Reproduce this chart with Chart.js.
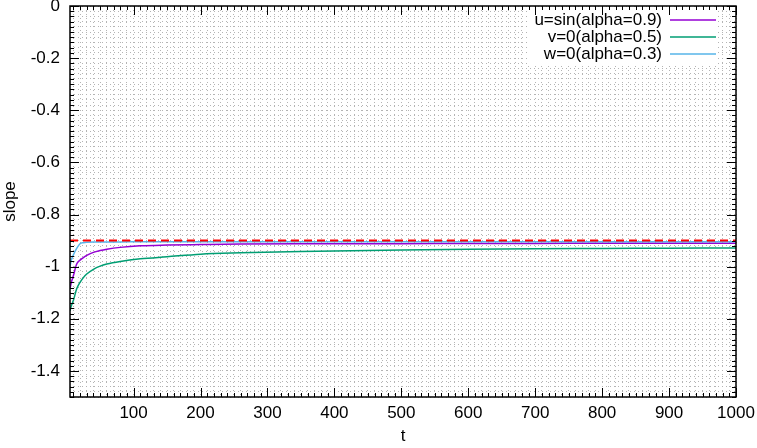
<!DOCTYPE html>
<html>
<head>
<meta charset="utf-8">
<script src="https://cdn.jsdelivr.net/npm/chart.js@4"></script>
<style>
  html, body { margin: 0; padding: 0; background: #fff; }
  #wrap { width: 757px; height: 448px; }
</style>
</head>
<body>
<div id="wrap"><canvas id="slopeChart" width="757" height="448"></canvas></div>
<script>
// t 값
var tValues = [5, 7, 10, 15, 20, 25, 30, 40, 50, 60, 80, 110, 150, 200, 260, 350, 500, 600, 700, 800, 900, 1000];
// 각 곡선의 slope
var uSlope = [-1.085, -1.06, -1.035, -0.99, -0.975, -0.965, -0.957, -0.945, -0.938, -0.933, -0.926, -0.92, -0.917, -0.915, -0.913, -0.912, -0.912, -0.911, -0.911, -0.91, -0.91, -0.91];
var vSlope = [-1.17, -1.15, -1.13, -1.085, -1.06, -1.042, -1.028, -1.01, -0.998, -0.99, -0.98, -0.97, -0.962, -0.952, -0.947, -0.942, -0.936, -0.933, -0.931, -0.93, -0.929, -0.928];
var wSlope = [-1.0, -0.975, -0.955, -0.93, -0.912, -0.908, -0.906, -0.905, -0.905, -0.905, -0.905, -0.904, -0.904, -0.904, -0.904, -0.904, -0.904, -0.904, -0.904, -0.904, -0.904, -0.904];
var refSlope = [-0.9, -0.9];
var refT = [5, 1000];

var seriesLabels = ['u=sin(alpha=0.9)', 'v=0(alpha=0.5)', 'w=0(alpha=0.3)'];
var seriesColors = ['#9400d3', '#009e73', '#56b4e9'];

function toPoints(xs, ys) {
    return xs.map(function (x, i) { return { x: x, y: ys[i] }; });
}

Chart.defaults.font.family = "'Liberation Sans', Arial, Helvetica, sans-serif";
Chart.defaults.font.size = 17;
Chart.defaults.color = '#000';

// 테두리 + 안쪽으로 향하는 눈금 (gnuplot 스타일)
var frameTicks = {
    id: 'frameTicks',
    afterDraw: function (chart) {
        var ctx = chart.ctx, a = chart.chartArea;
        var xs = chart.scales.x, ys = chart.scales.y;
        ctx.save();
        ctx.setLineDash([]);
        ctx.strokeStyle = '#000';
        ctx.lineWidth = 1;
        ctx.beginPath();
        xs.ticks.forEach(function (t) {
            var px = Math.round(xs.getPixelForValue(t.value)) + 0.5;
            var len = t.value % 100 === 0 ? 9 : 4;
            ctx.moveTo(px, a.bottom); ctx.lineTo(px, a.bottom - len);
            ctx.moveTo(px, a.top); ctx.lineTo(px, a.top + len);
        });
        ys.ticks.forEach(function (t) {
            var py = Math.round(ys.getPixelForValue(t.value)) + 0.5;
            var len = Math.round(t.value * 50) % 10 === 0 ? 9 : 4;
            ctx.moveTo(a.left, py); ctx.lineTo(a.left + len, py);
            ctx.moveTo(a.right, py); ctx.lineTo(a.right - len, py);
        });
        ctx.stroke();
        ctx.lineWidth = 1.5;
        ctx.strokeRect(a.left, a.top, a.right - a.left, a.bottom - a.top);
        ctx.restore();
    }
};

// 범례: 글자 오른쪽 정렬 + 오른쪽에 선 샘플
var keyBox = {
    id: 'keyBox',
    afterDatasetsDraw: function (chart) {
        var ctx = chart.ctx, a = chart.chartArea;
        var textRight = a.right - 74, lineL = a.right - 66, lineR = a.right - 20;
        ctx.save();
        ctx.setLineDash([]);
        ctx.fillStyle = '#fff';
        ctx.fillRect(a.right - 208, a.top + 2, 190, 58);
        ctx.font = "17px 'Liberation Sans', Arial, sans-serif";
        ctx.textAlign = 'right';
        ctx.textBaseline = 'middle';
        for (var i = 0; i < 3; i++) {
            var ds = chart.data.datasets[i];
            var y = a.top + 14 + i * 17;
            ctx.fillStyle = '#000';
            ctx.fillText(ds.label, textRight, y);
            ctx.strokeStyle = seriesColors[i];
            ctx.lineWidth = 1.5;
            ctx.beginPath();
            ctx.moveTo(lineL, y);
            ctx.lineTo(lineR, y);
            ctx.stroke();
        }
        ctx.restore();
    }
};

var config = {
    type: 'line',
    data: {
        datasets: [
            { label: seriesLabels[0], data: toPoints(tValues, uSlope), borderColor: seriesColors[0], borderWidth: 1.5, order: 3 },
            { label: seriesLabels[1], data: toPoints(tValues, vSlope), borderColor: seriesColors[1], borderWidth: 1.5, order: 2 },
            { label: seriesLabels[2], data: toPoints(tValues, wSlope), borderColor: seriesColors[2], borderWidth: 1.5, order: 1 },
            { label: 'ref', data: toPoints(refT, refSlope), borderColor: '#ff0000', borderWidth: 2, borderDash: [8, 5], order: 0 }
        ]
    },
    options: {
        responsive: false,
        animation: false,
        elements: {
            point: { radius: 0 },
            line: { cubicInterpolationMode: 'monotone', fill: false }
        },
        layout: { padding: { top: 6, right: 21, bottom: 0, left: 0 } },
        plugins: {
            legend: { display: false },
            tooltip: { enabled: false }
        },
        scales: {
            x: {
                type: 'linear',
                min: 5,
                max: 1000,
                afterBuildTicks: function (scale) {
                    var t = [];
                    for (var v = 10; v <= 1000; v += 10) t.push({ value: v });
                    scale.ticks = t;
                },
                afterFit: function (scale) {
                    scale.height = 51;
                    scale.paddingLeft = 0;
                    scale.paddingRight = 0;
                },
                ticks: {
                    autoSkip: false,
                    maxRotation: 0,
                    padding: 6,
                    callback: function (value) { return value % 100 === 0 ? String(value) : ''; }
                },
                grid: { color: '#b4b4b4', lineWidth: 1, drawTicks: false },
                border: { display: false, dash: [1, 3] },
                title: { display: true, text: 't', padding: { top: 0, bottom: 1 } }
            },
            y: {
                type: 'linear',
                min: -1.5,
                max: 0,
                afterBuildTicks: function (scale) {
                    var t = [];
                    for (var i = -75; i <= 0; i++) t.push({ value: i / 50 });
                    scale.ticks = t;
                },
                afterFit: function (scale) {
                    scale.width = 70;
                    scale.paddingTop = 0;
                    scale.paddingBottom = 0;
                },
                ticks: {
                    autoSkip: false,
                    padding: 10,
                    callback: function (value) {
                        var k = Math.round(value * 50);
                        if (k % 10 !== 0) return '';
                        return String(Math.round(value * 10) / 10);
                    }
                },
                grid: { color: '#b4b4b4', lineWidth: 1, drawTicks: false },
                border: { display: false, dash: [1, 3] },
                title: { display: true, text: 'slope', padding: { top: 0, bottom: 0 } }
            }
        }
    },
    plugins: [keyBox, frameTicks]
};

var canvas = document.getElementById('slopeChart');
var slopeChart = new Chart(canvas, config);
</script>
</body>
</html>
